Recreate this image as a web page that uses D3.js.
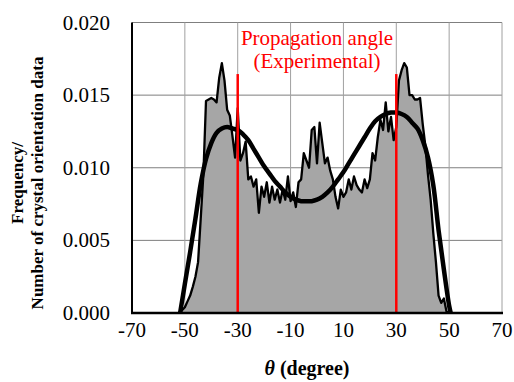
<!DOCTYPE html>
<html>
<head>
<meta charset="utf-8">
<script src="https://cdn.jsdelivr.net/npm/d3@7"></script>
<style>
  body { margin: 0; background: #fff; }
</style>
</head>
<body>
<div id="chart"></div>
<script>
// histogram (1 degree bins)
const histAngles = d3.range(-52, 51);
const histValues = [
  0, 0.0002, 0.0004, 0.0008, 0.0012, 0.0018, 0.0025, 0.0035, 0.0065, 0.0095,
  0.0146, 0.0147, 0.0148, 0.0147, 0.0145, 0.0162, 0.0172, 0.0160, 0.0140, 0.0136,
  0.0122, 0.0107, 0.0141, 0.0105, 0.0110, 0.0118, 0.0092, 0.0094, 0.0087, 0.0092,
  0.0069, 0.0087, 0.0080, 0.0090, 0.0076, 0.0087, 0.0078, 0.0085, 0.0076, 0.0085,
  0.0078, 0.0094, 0.0077, 0.0083, 0.0073, 0.0090, 0.0092, 0.0110, 0.0105, 0.0100,
  0.0126, 0.0128, 0.0103, 0.0131, 0.0117, 0.0103, 0.0107, 0.0098, 0.0092, 0.0080,
  0.0072, 0.0085, 0.0080, 0.0083, 0.0092, 0.0085, 0.0094, 0.0088, 0.0085, 0.0083,
  0.0092, 0.0086, 0.0092, 0.0110, 0.0105, 0.0121, 0.0133, 0.0126, 0.0145, 0.0125,
  0.0135, 0.0119, 0.0128, 0.0160, 0.0167, 0.0172, 0.0169, 0.0150, 0.0150, 0.0147,
  0.0147, 0.0148, 0.0130, 0.0115, 0.0095, 0.0078, 0.0055, 0.0035, 0.0012, 0.0007,
  0.0010, 0.0001, 0
];

// fitted curve
const fitAngles = [-51.8, -50, -48, -46, -44, -42, -40, -38, -36, -34, -32, -30, -28, -26,
  -24, -22, -20, -18, -16, -14, -12, -10, -8, -6, -4, -2, 0, 2, 4, 6, 8, 10, 12, 14, 16,
  18, 20, 22, 24, 26, 28, 30, 32, 34, 36, 38, 40, 42, 44, 46, 48, 50, 50.6];
const fitValues = [0, 0.0020, 0.0042, 0.0065, 0.0089, 0.0106, 0.0117, 0.0124, 0.0127,
  0.0128, 0.0127, 0.0126, 0.0123, 0.0119, 0.0113, 0.0107, 0.0101, 0.0096, 0.0091, 0.0087,
  0.0083, 0.0080, 0.0078, 0.0077, 0.0077, 0.0077, 0.0078, 0.0080, 0.0083, 0.0087, 0.0092,
  0.0097, 0.0103, 0.0109, 0.0115, 0.0121, 0.0127, 0.0132, 0.0135, 0.0137, 0.0138, 0.0138,
  0.0137, 0.0135, 0.0131, 0.0127, 0.0119, 0.0107, 0.0088, 0.0057, 0.0030, 0.0005, 0];

// experimental propagation angles
const propAngles = [-30, 30];
const propTop = 0.01645;

const xTicks = [-70, -50, -30, -10, 10, 30, 50, 70];
const yTicks = [0, 0.005, 0.010, 0.015, 0.020];

const width = 514, height = 382;
const margin = { top: 22.5, right: 12, bottom: 69, left: 132 };

const svg = d3.select('#chart').append('svg')
  .attr('width', width)
  .attr('height', height)
  .attr('font-family', '"Liberation Serif", "Times New Roman", "DejaVu Serif", serif');

const x = d3.scaleLinear().domain([-70, 70]).range([margin.left, width - margin.right]);
const y = d3.scaleLinear().domain([0, 0.02]).range([height - margin.bottom, margin.top]);

// grid
svg.append('g')
  .selectAll('line')
  .data(yTicks.slice(1))
  .enter().append('line')
  .attr('x1', x(-70)).attr('x2', x(70))
  .attr('y1', d => y(d)).attr('y2', d => y(d))
  .attr('stroke', '#7f7f7f').attr('stroke-width', 1);

svg.append('g')
  .selectAll('line')
  .data(xTicks.slice(1))
  .enter().append('line')
  .attr('x1', d => x(d)).attr('x2', d => x(d))
  .attr('y1', y(0)).attr('y2', y(0.02))
  .attr('stroke', '#a0a0a0').attr('stroke-width', 1);

// histogram
const hist = histAngles.map((a, i) => [a, histValues[i]]);

svg.append('path')
  .datum(hist)
  .attr('fill', '#a6a6a6')
  .attr('d', d3.area().x(d => x(d[0])).y0(y(0)).y1(d => y(d[1])));

svg.append('path')
  .datum(hist)
  .attr('fill', 'none')
  .attr('stroke', '#000')
  .attr('stroke-width', 2.3)
  .attr('stroke-linejoin', 'round')
  .attr('d', d3.line().x(d => x(d[0])).y(d => y(d[1])));

// fit curve
const fit = fitAngles.map((a, i) => [a, fitValues[i]]);
svg.append('path')
  .datum(fit)
  .attr('fill', 'none')
  .attr('stroke', '#000')
  .attr('stroke-width', 4.5)
  .attr('d', d3.line().curve(d3.curveCatmullRom).x(d => x(d[0])).y(d => y(d[1])));

// red lines
svg.append('g')
  .selectAll('line')
  .data(propAngles)
  .enter().append('line')
  .attr('x1', d => x(d)).attr('x2', d => x(d))
  .attr('y1', y(0)).attr('y2', y(propTop))
  .attr('stroke', '#ff0000').attr('stroke-width', 2.5);

svg.append('text')
  .attr('x', 317).attr('y', 45)
  .attr('text-anchor', 'middle')
  .attr('fill', '#ff0000')
  .attr('font-size', '21px')
  .text('Propagation angle');
svg.append('text')
  .attr('x', 317).attr('y', 68)
  .attr('text-anchor', 'middle')
  .attr('fill', '#ff0000')
  .attr('font-size', '21px')
  .text('(Experimental)');

// axes
svg.append('line')
  .attr('x1', x(-70)).attr('x2', x(-70))
  .attr('y1', y(0)).attr('y2', y(0.02))
  .attr('stroke', '#000').attr('stroke-width', 2);
svg.append('line')
  .attr('x1', x(-70) - 1).attr('x2', x(70) + 1)
  .attr('y1', y(0)).attr('y2', y(0))
  .attr('stroke', '#000').attr('stroke-width', 2.5);

svg.append('g')
  .selectAll('text')
  .data(yTicks)
  .enter().append('text')
  .attr('x', 110)
  .attr('y', d => y(d) + 7)
  .attr('text-anchor', 'end')
  .attr('font-size', '21px')
  .text(d => d3.format('.3f')(d));

svg.append('g')
  .selectAll('text')
  .data(xTicks)
  .enter().append('text')
  .attr('x', d => x(d))
  .attr('y', 337)
  .attr('text-anchor', 'middle')
  .attr('font-size', '21px')
  .text(d => d);

// axis titles
const xt = svg.append('text')
  .attr('x', 307).attr('y', 375)
  .attr('text-anchor', 'middle')
  .attr('font-size', '20px')
  .attr('font-weight', 'bold');
xt.append('tspan').attr('font-style', 'italic').text('θ');
xt.append('tspan').text(' (degree)');

const yt = svg.append('text')
  .attr('transform', 'translate(0,183) rotate(-90)')
  .attr('text-anchor', 'middle')
  .attr('font-size', '17px')
  .attr('font-weight', 'bold');
yt.append('tspan').attr('x', 0).attr('y', 23).text('Frequency/');
yt.append('tspan').attr('x', 0).attr('y', 43).text('Number of crystal orientation data');
</script>
</body>
</html>
